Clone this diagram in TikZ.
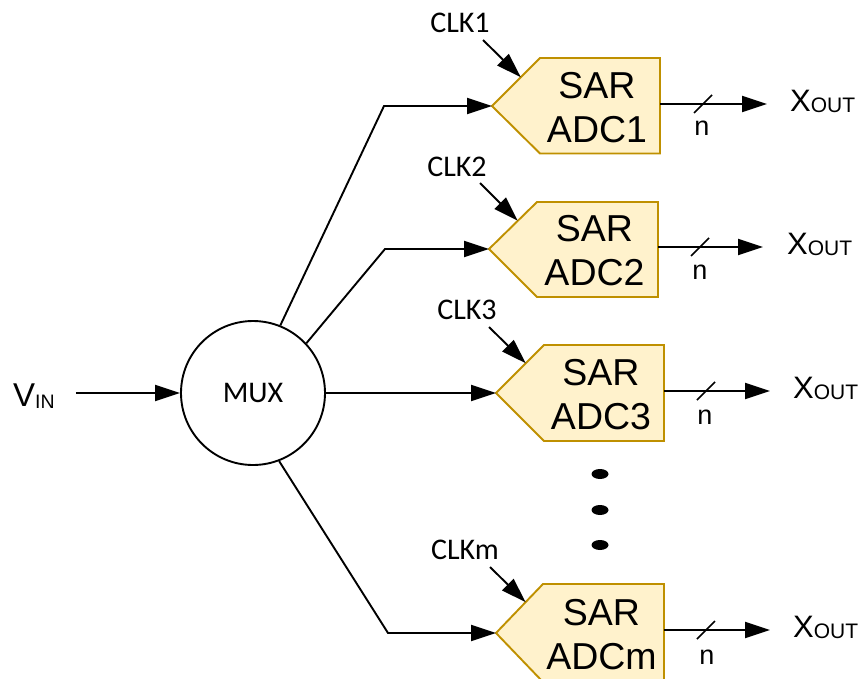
\documentclass[tikz,border=0pt]{standalone}
\usepackage{fontspec}
\setmainfont{Liberation Sans}
\newfontfamily\carlito{Carlito}
\usetikzlibrary{arrows.meta,calc,shapes.geometric}
\definecolor{adcfill}{HTML}{FFF2CC}
\definecolor{adcedge}{HTML}{BF9000}
\begin{document}
\begin{tikzpicture}[x=1pt,y=-1pt,
  wire/.style={line width=1.9pt},
  sig/.style={wire, -{Triangle[length=25pt,width=16pt]}},
  tick/.style={line width=1.6pt},
  adcbox/.style={draw=adcedge, fill=adcfill, line width=1.9pt, line join=miter},
  adctext/.style={align=center, inner sep=0pt, font=\fontsize{37.5}{44}\selectfont},
  clklbl/.style={inner sep=0pt, font=\carlito\fontsize{30}{30}\selectfont},
  outlbl/.style={inner sep=0pt, anchor=base west, font=\fontsize{31}{31}\selectfont},
  bits/.style={inner sep=0pt, font=\fontsize{27}{27}\selectfont},
  muxnode/.style={circle, draw, line width=1.9pt, minimum size=144pt, inner sep=0pt,
    font=\carlito\fontsize{30}{30}\selectfont},
  dotmark/.style={ellipse, fill=black, inner sep=0pt, minimum width=17pt, minimum height=10pt}
]
\useasboundingbox (0,0) rectangle (860,678);

% input and multiplexer
\node[muxnode] (mux) at (253,393) {MUX};
\node[inner sep=0pt, anchor=base west, font=\fontsize{33}{33}\selectfont] (vin) at (13,406)
  {V\raisebox{-2pt}{\fontsize{19.5}{19.5}\selectfont IN}};
\draw[sig, shorten <=21pt] (vin.east |- mux.west) -- (mux.west);

% ---- converter 1
\coordinate (in1) at (492,106);
\coordinate (tl1) at (540,58);
\draw[adcbox] (in1) -- (tl1) -- (660,58) -- (660,153.5) -- (540,153.5) -- cycle;
\node[adctext] (adc1) at (597,108) {SAR\\ADC1};
\node[clklbl] (clk1) at (460,23) {CLK1};
\coordinate (k1) at (483,40);
\draw[sig] (k1) -- ($(in1)!0.6!(tl1)$);
\coordinate (o1) at (660,104);
\node[outlbl] (x1) at (790,111) {X\raisebox{-1.5pt}{\fontsize{21}{21}\selectfont OUT}};
\draw[sig, shorten >=23pt] (o1) -- (o1 -| x1.west);
\coordinate (s1) at (703,104);
\draw[tick] ($(s1)+(-9,9)$) -- ($(s1)+(9,-9)$);
\node[bits] (n1) at (702,128) {n};

% ---- converter 2
\coordinate (in2) at (489,249);
\coordinate (tl2) at (537,202);
\draw[adcbox] (in2) -- (tl2) -- (658,202) -- (658,297) -- (537,297) -- cycle;
\node[adctext] (adc2) at (594.5,251) {SAR\\ADC2};
\node[clklbl] (clk2) at (457,167) {CLK2};
\coordinate (k2) at (480,183);
\draw[sig] (k2) -- ($(in2)!0.6!(tl2)$);
\coordinate (o2) at (658,247);
\node[outlbl] (x2) at (787,254) {X\raisebox{-1.5pt}{\fontsize{21}{21}\selectfont OUT}};
\draw[sig, shorten >=24pt] (o2) -- (o2 -| x2.west);
\coordinate (s2) at (700,247);
\draw[tick] ($(s2)+(-9,9)$) -- ($(s2)+(9,-9)$);
\node[bits] (n2) at (700,272) {n};

% ---- converter 3
\coordinate (in3) at (496,393);
\coordinate (tl3) at (544,345);
\draw[adcbox] (in3) -- (tl3) -- (664,345) -- (664,441) -- (544,441) -- cycle;
\node[adctext] (adc3) at (601,395) {SAR\\ADC3};
\node[clklbl] (clk3) at (467,310) {CLK3};
\coordinate (k3) at (489,327);
\draw[sig] (k3) -- ($(in3)!0.62!(tl3)$);
\coordinate (o3) at (664,391);
\node[outlbl] (x3) at (793,398) {X\raisebox{-1.5pt}{\fontsize{21}{21}\selectfont OUT}};
\draw[sig, shorten >=23pt] (o3) -- (o3 -| x3.west);
\coordinate (s3) at (706,391);
\draw[tick] ($(s3)+(-9,9)$) -- ($(s3)+(9,-9)$);
\node[bits] (n3) at (705,417) {n};

% ---- ellipsis between the rows
\node[dotmark] (d1) at (600,474) {};
\node[dotmark] (d2) at (600,510) {};
\node[dotmark] (d3) at (600,545) {};

% ---- converter m
\coordinate (inm) at (496,633);
\coordinate (tlm) at (543,584);
\draw[adcbox] (inm) -- (tlm) -- (664,584) -- (664,682) -- (543,682) -- cycle;
\node[adctext] (adcm) at (601.5,635) {SAR\\ADCm};
\node[clklbl] (clkm) at (465,550) {CLKm};
\coordinate (km) at (490,567);
\draw[sig] (km) -- ($(inm)!0.63!(tlm)$);
\coordinate (om) at (664,630);
\node[outlbl] (xm) at (793,637) {X\raisebox{-1.5pt}{\fontsize{21}{21}\selectfont OUT}};
\draw[sig, shorten >=23pt] (om) -- (om -| xm.west);
\coordinate (sm) at (706,630);
\draw[tick] ($(sm)+(-9,9)$) -- ($(sm)+(9,-9)$);
\node[bits] (nm) at (707,657) {n};

% ---- multiplexer outputs
\coordinate (e1) at (384,106);
\coordinate (e2) at (385,249);
\coordinate (em) at (388,633);
\draw[sig] (mux.68) -- (e1) -- (in1);
\draw[sig] (mux.43) -- (e2) -- (in2);
\draw[sig] (mux.east) -- (in3);
\draw[sig] (mux.-69) -- (em) -- (inm);
\end{tikzpicture}
\end{document}
